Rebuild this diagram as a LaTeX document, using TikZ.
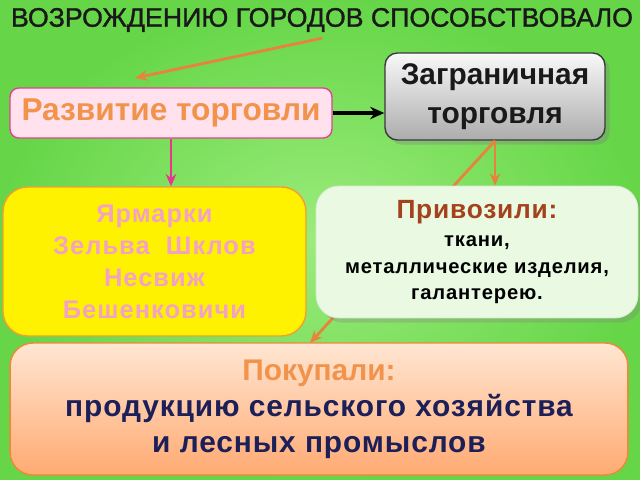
\documentclass[tikz,border=0pt]{standalone}
\usepackage{fontspec}
\setmainfont{Liberation Sans}
\usepackage{xcolor}
\usepackage{tikz}
\usetikzlibrary{arrows.meta}
\usetikzlibrary{shadows}
\usetikzlibrary{calc}
\definecolor{bgin}{HTML}{9CEC7C}
\definecolor{bgout}{HTML}{66D648}
\definecolor{devfill}{HTML}{FFE2EE}
\definecolor{devline}{HTML}{E0448E}
\definecolor{orangetext}{HTML}{F2934C}
\definecolor{grayline}{HTML}{3A3A3A}
\definecolor{fairtext}{HTML}{F4A2C4}
\definecolor{fairline}{HTML}{F0A030}
\definecolor{importfill}{HTML}{E9F9E2}
\definecolor{importhead}{HTML}{A3421C}
\definecolor{buytop}{HTML}{FFE6D2}
\definecolor{buybottom}{HTML}{FFAA72}
\definecolor{buyline}{HTML}{F0873A}
\definecolor{navytext}{HTML}{1C1F58}
\definecolor{arroworange}{HTML}{E8823C}
\definecolor{arrowpink}{HTML}{E8368E}
\tikzstyle{mybox} = [rectangle, align=center, inner sep=2pt]
\tikzstyle{bigtitle} = [font=\fontsize{15.2}{18}\selectfont\addfontfeature{FakeBold=1.2}, text=black!90]
\tikzstyle{devbox} = [mybox, draw=devline, fill=devfill, line width=0.8pt,
rounded corners=5pt, text=orangetext, font=\bfseries\fontsize{18}{21}\selectfont]
\tikzstyle{foreignbox} = [mybox, draw=grayline, line width=0.8pt, rounded corners=7pt,
top color=white!95!gray, bottom color=gray!65, drop shadow={opacity=0.35},
text=black!90, font=\bfseries\fontsize{17}{22}\selectfont]
\tikzstyle{fairbox} = [mybox, draw=fairline, fill=yellow, line width=0.8pt,
rounded corners=14pt, text=fairtext, font=\bfseries\fontsize{14.5}{18.2}\selectfont]
\tikzstyle{importbox} = [mybox, draw=importfill!85!gray, fill=importfill, line width=0.5pt,
rounded corners=13pt, drop shadow={opacity=0.3}, font=\bfseries\fontsize{11.5}{15}\selectfont]
\tikzstyle{buybox} = [mybox, draw=buyline, line width=0.8pt, rounded corners=13pt,
top color=buytop, bottom color=buybottom, text=navytext,
font=\bfseries\fontsize{17}{20.4}\selectfont]
\tikzstyle{orangearrow} = [draw=arroworange, line width=1.6pt, -{Stealth[length=7pt,width=6pt]}]

\begin{document}
\begin{tikzpicture}[x=0.02cm, y=-0.02cm]
        \useasboundingbox (0,0) rectangle (640,480);
        \shade[inner color=bgin, outer color=bgout] (0,0) rectangle (640,480);
        \node[bigtitle] (title) at (322,20) {ВОЗРОЖДЕНИЮ ГОРОДОВ СПОСОБСТВОВАЛО};
        \coordinate (devtop) at (135,78);
        \node[devbox, minimum width=6.44cm, minimum height=1cm] (dev) at (171,113) {Развитие торговли};
        \node[foreignbox, minimum width=4.4cm, minimum height=1.74cm] (foreign) at (495,96.5)
            {Заграничная\\торговля};
        \draw[orangearrow] (foreign.south) -- ([xshift=-0.18cm]319,343);
        \node[fairbox, minimum width=6.06cm, minimum height=2.98cm] (fairs) at (154.5,261.5)
            {\addfontfeature{LetterSpace=4}Ярмарки\\
             \addfontfeature{LetterSpace=4}Зельва\ \ Шклов\\
             \addfontfeature{LetterSpace=4}Несвиж\\
             \addfontfeature{LetterSpace=4}Бешенковичи};
        \node[importbox, minimum width=6.44cm, minimum height=2.64cm] (imports) at (477,252)
            {{\color{importhead}\fontsize{15}{18}\selectfont\addfontfeature{LetterSpace=3}Привозили:}\\[1pt]
             \addfontfeature{LetterSpace=4}ткани,\\
             \addfontfeature{LetterSpace=4}металлические изделия,\\
             \addfontfeature{LetterSpace=4}галантерею.};
        \node[buybox, minimum width=12.36cm, minimum height=2.64cm] (bought) at (319,409)
            {{\color{orangetext}Покупали:}\\
             \addfontfeature{LetterSpace=3}продукцию сельского хозяйства\\
             \addfontfeature{LetterSpace=3}и лесных промыслов};
        \draw[orangearrow] (title.south) -- (devtop);
        \draw[line width=1.8pt, -{Stealth[length=8pt,width=7pt]}] (dev.east) -- (dev.east -| foreign.west);
        \draw[draw=arrowpink, line width=1.2pt, -{Stealth[length=7pt,width=6pt]}] (dev.south) -- (dev.south |- fairs.north);
        \draw[orangearrow] (foreign.south) -- (foreign.south |- imports.north);
    \end{tikzpicture}
\end{document}
